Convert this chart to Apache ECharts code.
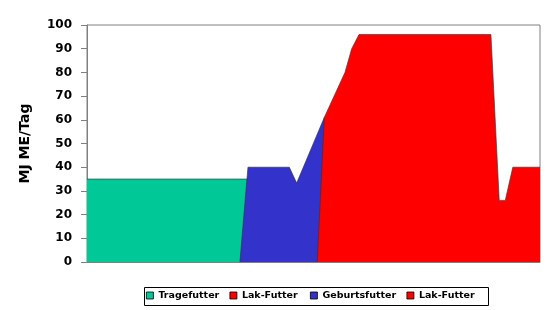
<!DOCTYPE html>
<html>
<head>
<meta charset="utf-8">
<script src="https://cdn.jsdelivr.net/npm/echarts@6/dist/echarts.min.js"></script>
<style>html,body{margin:0;padding:0;background:#fff}#c{width:550px;height:310px}</style>
</head>
<body>
<div id="c"></div>
<script>
// x positions in category units (0 = left edge, 60 = right edge)
var seriesNames = ['Tragefutter', 'Lak-Futter', 'Geburtsfutter', 'Lak-Futter'];
var yTicks = [0, 10, 20, 30, 40, 50, 60, 70, 80, 90, 100];

var trageX = [0, 21.4, 22.4];
var trageY = [35, 35, 0];

var lak1X = [];
var lak1Y = [];

var geburtX = [20.26, 21.32, 26.8, 27.77, 31.43, 32.4];
var geburtY = [0, 40, 40, 33.3, 61, 0];

var lak2X = [30.5, 31.43, 34.17, 35.06, 36.03, 53.5, 54.6, 55.4, 56.4, 60];
var lak2Y = [0, 61, 80, 90, 96, 96, 26, 26, 40, 40];

var colors = ['#00C896', '#FF0000', '#3333CC', '#FF0000'];
var legendLefts = [146, 229.5, 310, 406.5];

function pairs(xs, ys) { return xs.map(function (x, i) { return [x, ys[i]]; }); }
var allData = [pairs(trageX, trageY), pairs(lak1X, lak1Y), pairs(geburtX, geburtY), pairs(lak2X, lak2Y)];
// unique internal ids so the legend keeps both "Lak-Futter" entries
var ids = seriesNames.map(function (n, i) { return n + '#' + i; });

var FONT = 'DejaVu Sans';

var chart = echarts.init(document.getElementById('c'), null, { renderer: 'canvas' });
chart.setOption({
  animation: false,
  grid: { left: 87, right: 10, top: 25, bottom: 48, show: true, borderColor: '#808080', borderWidth: 1, backgroundColor: 'transparent' },
  graphic: [{
    type: 'rect', left: 142, top: 285, silent: true,
    shape: { width: 344, height: 18 },
    style: { fill: 'none', stroke: '#000', lineWidth: 1 }
  }],
  xAxis: {
    type: 'value', min: 0, max: 60,
    axisLine: { show: true, lineStyle: { color: '#808080', width: 1 } },
    axisTick: { show: false }, axisLabel: { show: false }, splitLine: { show: false }
  },
  yAxis: {
    type: 'value', min: yTicks[0], max: yTicks[yTicks.length - 1], interval: yTicks[1] - yTicks[0],
    name: 'MJ ME/Tag', nameLocation: 'middle', nameGap: 55,
    nameTextStyle: { fontFamily: FONT, fontWeight: 'bold', fontSize: 14, color: '#000' },
    axisLine: { show: true, lineStyle: { color: '#808080', width: 1 } },
    axisTick: { show: true, length: 6, lineStyle: { color: '#808080' } },
    axisLabel: { margin: 15, fontFamily: FONT, fontWeight: 'bold', fontSize: 12, color: '#000' },
    splitLine: { show: false }
  },
  legend: ids.map(function (id, i) {
    return {
      left: legendLefts[i], top: 290.5,
      padding: 0,
      itemWidth: 7, itemHeight: 7,
      icon: 'rect',
      itemStyle: { borderColor: '#000', borderWidth: 0.8 },
      textStyle: { fontFamily: FONT, fontWeight: 'bold', fontSize: 9.5, color: '#000' },
      formatter: function (n) { return seriesNames[ids.indexOf(n)]; },
      data: [id]
    };
  }),
  series: allData.map(function (d, i) {
    return {
      type: 'line', name: ids[i], data: d,
      symbol: 'none', showSymbol: false,
      color: colors[i],
      lineStyle: { color: '#333', width: 0.8, opacity: 0.8 },
      areaStyle: { color: colors[i], opacity: 1 },
      itemStyle: { color: colors[i] },
      z: 2 + i
    };
  })
});
</script>
</body>
</html>
